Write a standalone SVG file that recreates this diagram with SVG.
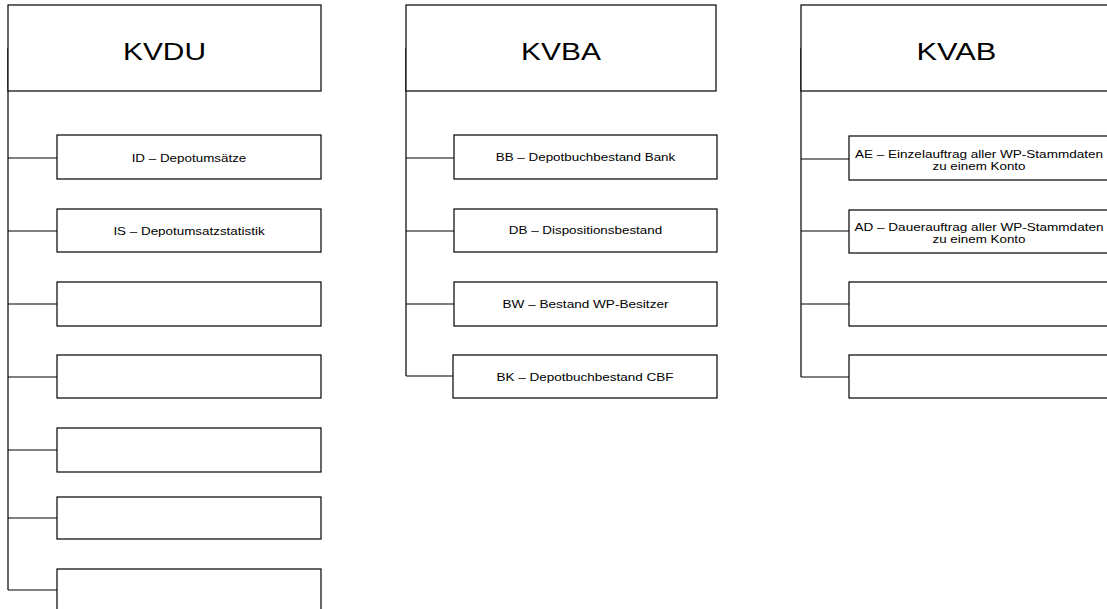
<svg xmlns="http://www.w3.org/2000/svg" width="1107" height="609" viewBox="0 0 1107 609">
<style>
.box{fill:#fff;stroke:#000;stroke-width:1.2}
.ln{fill:none;stroke:#000;stroke-width:1.2}
.hd{font-family:"Liberation Sans",Arial,sans-serif;font-size:24.6px;text-anchor:middle;fill:#000}
.lb{font-family:"Liberation Sans",Arial,sans-serif;font-size:11.6px;text-anchor:middle;fill:#000}
</style>
<rect width="1107" height="609" fill="#fff"/>
<g id="connectors">
<path class="ln" d="M8,48V590M8,158H57M8,231H57M8,304H57M8,377H57M8,450H57M8,518H57M8,590H57"/>
<path class="ln" d="M406,48V376M406,158H454M406,231H454M406,304H454M406,376H454"/>
<path class="ln" d="M801,48V377M801,159H849M801,231H849M801,304H849M801,377H849"/>
</g>
<g id="kvdu"><rect class="box" x="8" y="5" width="313" height="86"/><text class="hd" x="164.5" y="60" textLength="83" lengthAdjust="spacingAndGlyphs">KVDU</text></g>
<g id="kvdu-id"><rect class="box" x="57" y="135" width="264" height="44"/><text class="lb" x="189" y="162" textLength="114.7" lengthAdjust="spacingAndGlyphs">ID – Depotumsätze</text></g>
<g id="kvdu-is"><rect class="box" x="57" y="209" width="264" height="43"/><text class="lb" x="189" y="235" textLength="151.2" lengthAdjust="spacingAndGlyphs">IS – Depotumsatzstatistik</text></g>
<g id="kvdu-3"><rect class="box" x="57" y="282" width="264" height="44"/></g>
<g id="kvdu-4"><rect class="box" x="57" y="355" width="264" height="43"/></g>
<g id="kvdu-5"><rect class="box" x="57" y="428" width="264" height="44"/></g>
<g id="kvdu-6"><rect class="box" x="57" y="497" width="264" height="42"/></g>
<g id="kvdu-7"><rect class="box" x="57" y="569" width="264" height="50"/></g>

<g id="kvba"><rect class="box" x="406" y="5" width="310" height="86"/><text class="hd" x="561" y="60" textLength="79.8" lengthAdjust="spacingAndGlyphs">KVBA</text></g>
<g id="kvba-bb"><rect class="box" x="454" y="135" width="263" height="44"/><text class="lb" x="585.5" y="161" textLength="179.5" lengthAdjust="spacingAndGlyphs">BB – Depotbuchbestand Bank</text></g>
<g id="kvba-db"><rect class="box" x="454" y="209" width="263" height="43"/><text class="lb" x="585.5" y="234" textLength="153.4" lengthAdjust="spacingAndGlyphs">DB – Dispositionsbestand</text></g>
<g id="kvba-bw"><rect class="box" x="454" y="282" width="263" height="44"/><text class="lb" x="585.5" y="308" textLength="166" lengthAdjust="spacingAndGlyphs">BW – Bestand WP-Besitzer</text></g>
<g id="kvba-bk"><rect class="box" x="453" y="355" width="264" height="43"/><text class="lb" x="585" y="381" textLength="177" lengthAdjust="spacingAndGlyphs">BK – Depotbuchbestand CBF</text></g>

<g id="kvab"><rect class="box" x="801" y="5" width="311" height="86"/><text class="hd" x="956.5" y="60" textLength="79.8" lengthAdjust="spacingAndGlyphs">KVAB</text></g>
<g id="kvab-ae"><rect class="box" x="849" y="136" width="264" height="44"/><text class="lb" x="979" y="157.5" textLength="248" lengthAdjust="spacingAndGlyphs">AE – Einzelauftrag aller WP-Stammdaten</text><text class="lb" x="979" y="169.5" textLength="93" lengthAdjust="spacingAndGlyphs">zu einem Konto</text></g>
<g id="kvab-ad"><rect class="box" x="849" y="210" width="264" height="43"/><text class="lb" x="979" y="231" textLength="249" lengthAdjust="spacingAndGlyphs">AD – Dauerauftrag aller WP-Stammdaten</text><text class="lb" x="979" y="243" textLength="93" lengthAdjust="spacingAndGlyphs">zu einem Konto</text></g>
<g id="kvab-3"><rect class="box" x="849" y="282" width="264" height="44"/></g>
<g id="kvab-4"><rect class="box" x="849" y="355" width="264" height="43"/></g>
</svg>
